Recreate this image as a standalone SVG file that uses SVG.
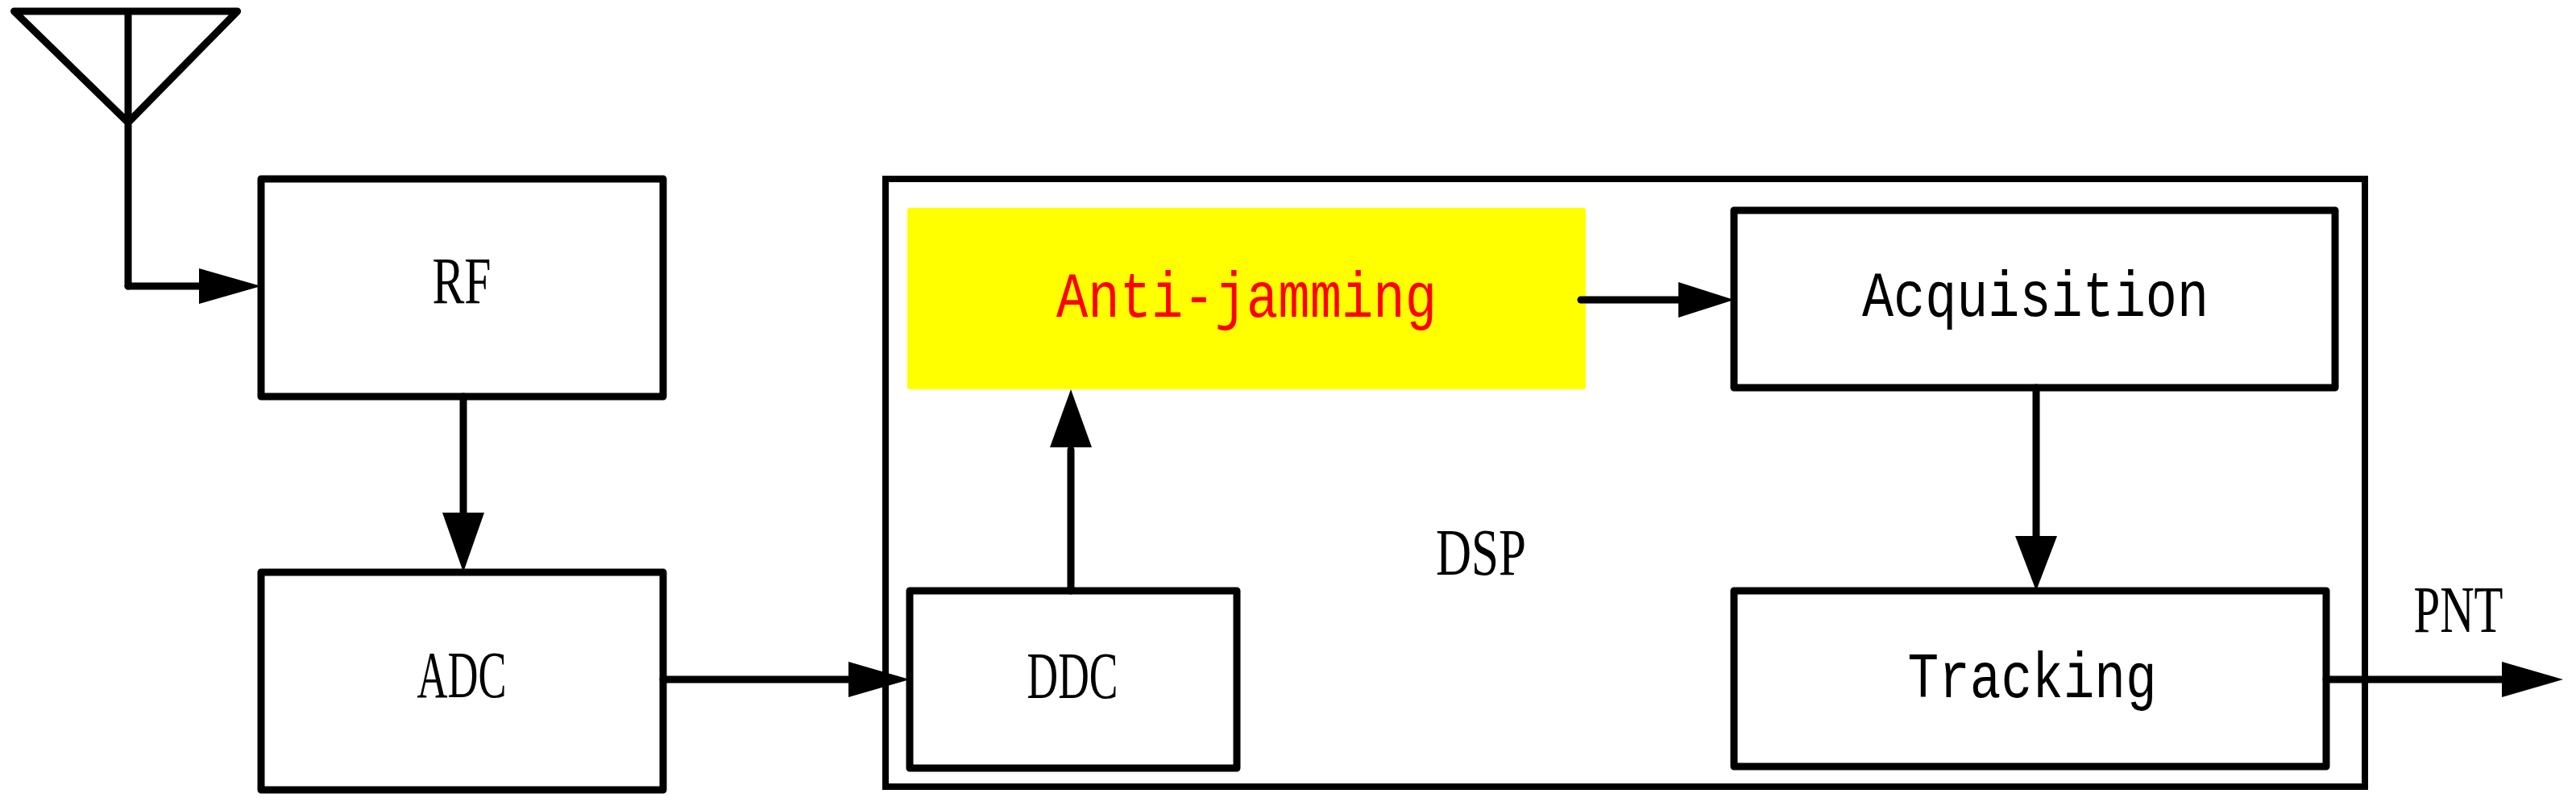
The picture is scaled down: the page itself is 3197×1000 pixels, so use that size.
<svg xmlns="http://www.w3.org/2000/svg" width="3197" height="1000" viewBox="0 0 3197 1000">
<style>
.box{fill:#fff;stroke:#000;stroke-width:9;stroke-linejoin:round}
.ln{fill:none;stroke:#000;stroke-width:9;stroke-linecap:round;stroke-linejoin:round}
.t{font-family:"Liberation Serif",serif;font-size:82px;fill:#000;text-anchor:middle}
.m{font-family:"Liberation Mono",monospace;font-size:80px;text-anchor:middle}
.ah{fill:#000}
</style>
<rect width="3197" height="1000" fill="#fff"/>
<g id="antenna"><path class="ln" d="M17.5,14 H294.6 L159,152 Z M159,14 V355"/></g>
<g id="dsp"><rect x="1099" y="222" width="1836" height="754" fill="none" stroke="#000" stroke-width="8"/>
<text class="t" x="1838" y="713" textLength="112" lengthAdjust="spacingAndGlyphs">DSP</text></g>
<g id="rf"><rect class="box" x="324" y="222" width="499" height="270"/><text class="t" x="573" y="376" textLength="73" lengthAdjust="spacingAndGlyphs">RF</text></g>
<g id="adc"><rect class="box" x="324" y="710" width="499" height="270"/><text class="t" x="573" y="865" textLength="111" lengthAdjust="spacingAndGlyphs">ADC</text></g>
<g id="antijamming"><rect x="1126" y="258" width="842" height="225" rx="3" fill="#ffff00"/><text class="m" x="1547" y="393" fill="#ff0000" textLength="472" lengthAdjust="spacingAndGlyphs">Anti-jamming</text></g>
<g id="ddc"><rect class="box" x="1129" y="733" width="406" height="220"/><text class="t" x="1331" y="866" textLength="113" lengthAdjust="spacingAndGlyphs">DDC</text></g>
<g id="acquisition"><rect class="box" x="2152" y="261" width="746" height="220"/><text class="m" x="2526" y="392" fill="#000" textLength="430" lengthAdjust="spacingAndGlyphs">Acquisition</text></g>
<g id="tracking"><rect class="box" x="2152" y="733" width="735" height="218"/><text class="m" x="2522" y="865" fill="#000" textLength="309" lengthAdjust="spacingAndGlyphs">Tracking</text></g>
<g id="pnt-label"><text class="t" x="3051" y="784" textLength="111" lengthAdjust="spacingAndGlyphs">PNT</text></g>
<g id="connectors">
<path class="ln" d="M159,355 H250"/><path class="ah" d="M247,333 L324,355 L247,377 Z"/>
<path class="ln" d="M575,492 V640"/><path class="ah" d="M549,636 L601,636 L575,710 Z"/>
<path class="ln" d="M823,843 H1056"/><path class="ah" d="M1053,821 L1129,843 L1053,865 Z"/>
<path class="ln" d="M1329,733 V558"/><path class="ah" d="M1303,555 L1355,555 L1329,483 Z"/>
<path class="ln" d="M1962,372 H2086"/><path class="ah" d="M2083,350 L2152,372 L2083,394 Z"/>
<path class="ln" d="M2527,481 V668"/><path class="ah" d="M2501,665 L2553,665 L2527,733 Z"/>
<path class="ln" d="M2887,843 H3108"/><path class="ah" d="M3105,821 L3181,843 L3105,865 Z"/>
</g>
</svg>
